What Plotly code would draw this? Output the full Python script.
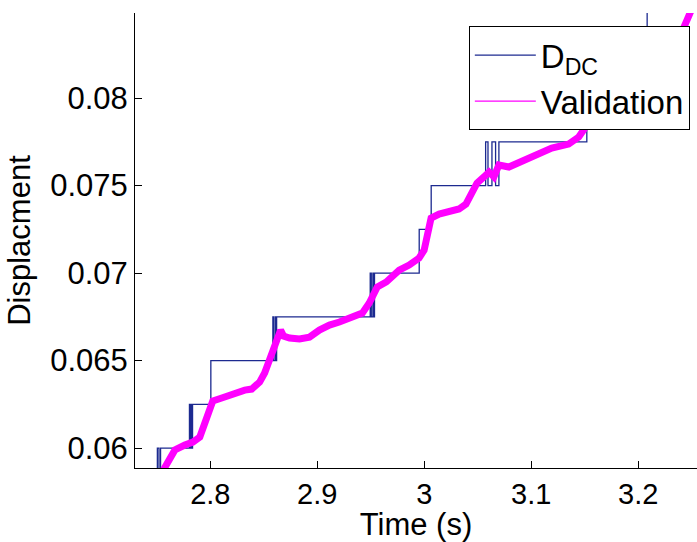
import plotly.graph_objects as go

# D_DC staircase (step transitions, value held until next time)
ddc_t = [2.725, 2.7505, 2.752, 2.7535, 2.7805, 2.7812, 2.7818, 2.7826, 2.7834, 2.8005,
         2.8585, 2.8595, 2.861, 2.8615, 2.862, 2.9495, 2.9505, 2.952, 2.953, 2.9535,
         2.9953, 3.0065, 3.0574, 3.0596, 3.0633, 3.0667, 3.0698, 3.152, 3.18, 3.2084, 3.26]
ddc_v = [0.0575, 0.06, 0.0575, 0.06, 0.0625, 0.06, 0.0625, 0.06, 0.0625, 0.065,
         0.0675, 0.065, 0.0675, 0.065, 0.0675, 0.07, 0.0675, 0.07, 0.0675, 0.07,
         0.0725, 0.075, 0.0775, 0.075, 0.0775, 0.075, 0.0775, 0.08, 0.0825, 0.085, 0.085]

# Validation (measured) displacement, traced centreline
val_t = [2.7539, 2.7604, 2.7669, 2.7762, 2.7837, 2.7902, 2.7949, 2.7995, 2.8023, 2.8107,
         2.8228, 2.8322, 2.8387, 2.8461, 2.8508, 2.8555, 2.8601, 2.8629, 2.8657, 2.8685,
         2.8741, 2.8834, 2.8927, 2.9020, 2.9114, 2.9207, 2.9328, 2.9421, 2.9486, 2.9524,
         2.9561, 2.9645, 2.9766, 2.9859, 2.9952, 2.9999, 3.0027, 3.0064, 3.0139, 3.0232,
         3.0325, 3.0390, 3.0446, 3.0493, 3.0558, 3.0605, 3.0651, 3.0698, 3.0791, 3.0884,
         3.0978, 3.1071, 3.1192, 3.1350, 3.1444, 3.1509, 3.1630, 3.1816, 3.2003, 3.2189,
         3.2376, 3.2497]
val_v = [0.05851, 0.05931, 0.05989, 0.06017, 0.06034, 0.06063, 0.06143, 0.06234, 0.06269, 0.06286,
         0.06314, 0.06331, 0.06337, 0.06377, 0.06429, 0.06503, 0.06577, 0.06629, 0.06674, 0.06640,
         0.06629, 0.06623, 0.06634, 0.06674, 0.06703, 0.06720, 0.06743, 0.06771, 0.06829, 0.06880,
         0.06920, 0.06949, 0.07017, 0.07046, 0.07086, 0.07131, 0.07200, 0.07314, 0.07337, 0.07349,
         0.07366, 0.07394, 0.07457, 0.07514, 0.07549, 0.07577, 0.07549, 0.07617, 0.07606, 0.07629,
         0.07657, 0.07680, 0.07714, 0.07737, 0.07777, 0.07834, 0.07903, 0.07989, 0.08091, 0.08210,
         0.08331, 0.08503]

x_ticks = [2.8, 2.9, 3.0, 3.1, 3.2]
x_tick_labels = ["2.8", "2.9", "3", "3.1", "3.2"]
y_ticks = [0.06, 0.065, 0.07, 0.075, 0.08]
y_tick_labels = ["0.06", "0.065", "0.07", "0.075", "0.08"]

FONT = "Liberation Sans, Arial, sans-serif"
FS = 31

fig = go.Figure()
fig.add_trace(go.Scatter(x=ddc_t, y=ddc_v, mode="lines", line_shape="hv",
                         line=dict(color="#1c2a90", width=1.3), name="D<sub>DC</sub>",
                         legendgroup="a"))
fig.add_trace(go.Scatter(x=val_t, y=val_v, mode="lines", showlegend=False,
                         line=dict(color="#ff00ff", width=7), name="Validation"))
# legend entry for the validation curve (thin line sample, as in the reference)
fig.add_trace(go.Scatter(x=[None], y=[None], mode="lines",
                         line=dict(color="#ff00ff", width=1.3), name="Validation",
                         legendgroup="b"))

fig.update_layout(
    width=697, height=542,
    margin=dict(l=135, r=0, t=13, b=74),
    paper_bgcolor="white", plot_bgcolor="white",
    font=dict(family=FONT, size=FS, color="black"),
    showlegend=True,
    legend=dict(x=0.594, y=0.971, xanchor="left", yanchor="top",
                bgcolor="white", bordercolor="black", borderwidth=1,
                font=dict(family=FONT, size=33, color="black"),
                itemwidth=61, tracegroupgap=0, traceorder="grouped"),
    xaxis=dict(range=[2.7296, 3.255], tickvals=x_ticks, ticktext=x_tick_labels,
               showgrid=False, zeroline=False, showline=True, linecolor="black", linewidth=1,
               ticks="inside", ticklen=7, tickcolor="black", tickfont=dict(size=29),
               title=dict(text="Time (s)", standoff=1, font=dict(size=FS))),
    yaxis=dict(range=[0.05886, 0.08486], tickvals=y_ticks, ticktext=y_tick_labels,
               showgrid=False, zeroline=False, showline=True, linecolor="black", linewidth=1,
               ticks="inside", ticklen=7, tickcolor="black",
               title=dict(text="Displacment", standoff=10, font=dict(size=FS))),
)

fig.write_html("out.html", config={"displayModeBar": False})
